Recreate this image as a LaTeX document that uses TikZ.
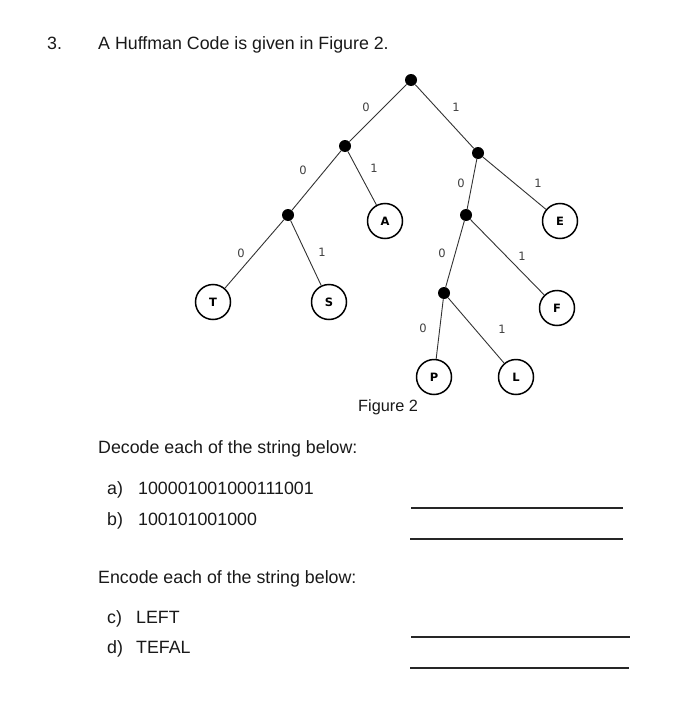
\documentclass[tikz,border=0pt]{standalone}
\usepackage{fontspec}
\setmainfont{Liberation Sans}
\newfontfamily\lblfont{DejaVu Sans}
\begin{document}
\begin{tikzpicture}[x=1pt,y=-1pt,
 dot/.style={circle,fill=black,inner sep=0pt,minimum size=12pt},
 leaf/.style={circle,draw=black,line width=1.5pt,inner sep=0pt,minimum size=35pt,font=\lblfont\bfseries\fontsize{11.5}{13}\selectfont},
 edge/.style={draw=black!80,line width=0.9pt},
 bit/.style={font=\lblfont\fontsize{11.5}{13}\selectfont,text=black!75,inner sep=0pt},
 txt/.style={anchor=base west,font=\fontsize{17.8}{21}\selectfont,inner sep=0pt,text=black!90},
 ansline/.style={draw=black!85,line width=1.2pt}]
\useasboundingbox[fill=white] (0,0) rectangle (680,701);

% header
\node[txt] (num) at (47,49) {3.};
\node[txt] (title) at (98,49) {A Huffman Code is given in Figure 2.};

% tree nodes
\node[dot] (r) at (411,80) {};
\node[dot] (n0) at (345,146) {};
\node[dot] (n00) at (288,215) {};
\node[leaf] (T) at (213,302) {T};
\node[leaf] (S) at (329,302) {S};
\node[leaf] (A) at (385,221) {A};
\node[dot] (n1) at (478,153) {};
\node[leaf] (E) at (560,221) {E};
\node[dot] (n10) at (466,215) {};
\node[leaf] (F) at (557,308) {F};
\node[dot] (n100) at (444,293) {};
\node[leaf] (P) at (434,377) {P};
\node[leaf] (L) at (516,377) {L};

% edges
\draw[edge] (r) -- (n0);
\draw[edge] (r) -- (n1);
\draw[edge] (n0) -- (n00);
\draw[edge] (n0) -- (A);
\draw[edge] (n00) -- (T);
\draw[edge] (n00) -- (S);
\draw[edge] (n1) -- (n10);
\draw[edge] (n1) -- (E);
\draw[edge] (n10) -- (n100);
\draw[edge] (n10) -- (F);
\draw[edge] (n100) -- (P);
\draw[edge] (n100) -- (L);

% bit labels
\node[bit] (b1) at (366,107) {0};
\node[bit] (b2) at (456,107) {1};
\node[bit] (b3) at (303,170) {0};
\node[bit] (b4) at (374,168) {1};
\node[bit] (b5) at (241,253) {0};
\node[bit] (b6) at (322,252) {1};
\node[bit] (b7) at (461,183) {0};
\node[bit] (b8) at (538,183) {1};
\node[bit] (b9) at (442,253) {0};
\node[bit] (b10) at (522,256) {1};
\node[bit] (b11) at (423,328) {0};
\node[bit] (b12) at (502,329) {1};

\node[txt,font=\fontsize{16.3}{19}\selectfont] (cap) at (358,411) {Figure 2};

% questions
\node[txt] (dec) at (98,453) {Decode each of the string below:};
\node[txt] (qa) at (107,494) {a)};
\node[txt] (sa) at (138,494) {100001001000111001};
\node[txt] (qb) at (107,525) {b)};
\node[txt] (sb) at (138,525) {100101001000};
\node[txt] (enc) at (98,583) {Encode each of the string below:};
\node[txt] (qc) at (107,623) {c)};
\node[txt] (sc) at (136,623) {LEFT};
\node[txt] (qd) at (107,653) {d)};
\node[txt] (sd) at (136,653) {TEFAL};

% answer lines
\coordinate (l1a) at (411,508); \coordinate (l1b) at (623,508);
\coordinate (l2a) at (410,539); \coordinate (l2b) at (623,539);
\coordinate (l3a) at (411,637); \coordinate (l3b) at (630,637);
\coordinate (l4a) at (410,668); \coordinate (l4b) at (629,668);
\draw[ansline] (l1a) -- (l1b);
\draw[ansline] (l2a) -- (l2b);
\draw[ansline] (l3a) -- (l3b);
\draw[ansline] (l4a) -- (l4b);
\end{tikzpicture}
\end{document}
